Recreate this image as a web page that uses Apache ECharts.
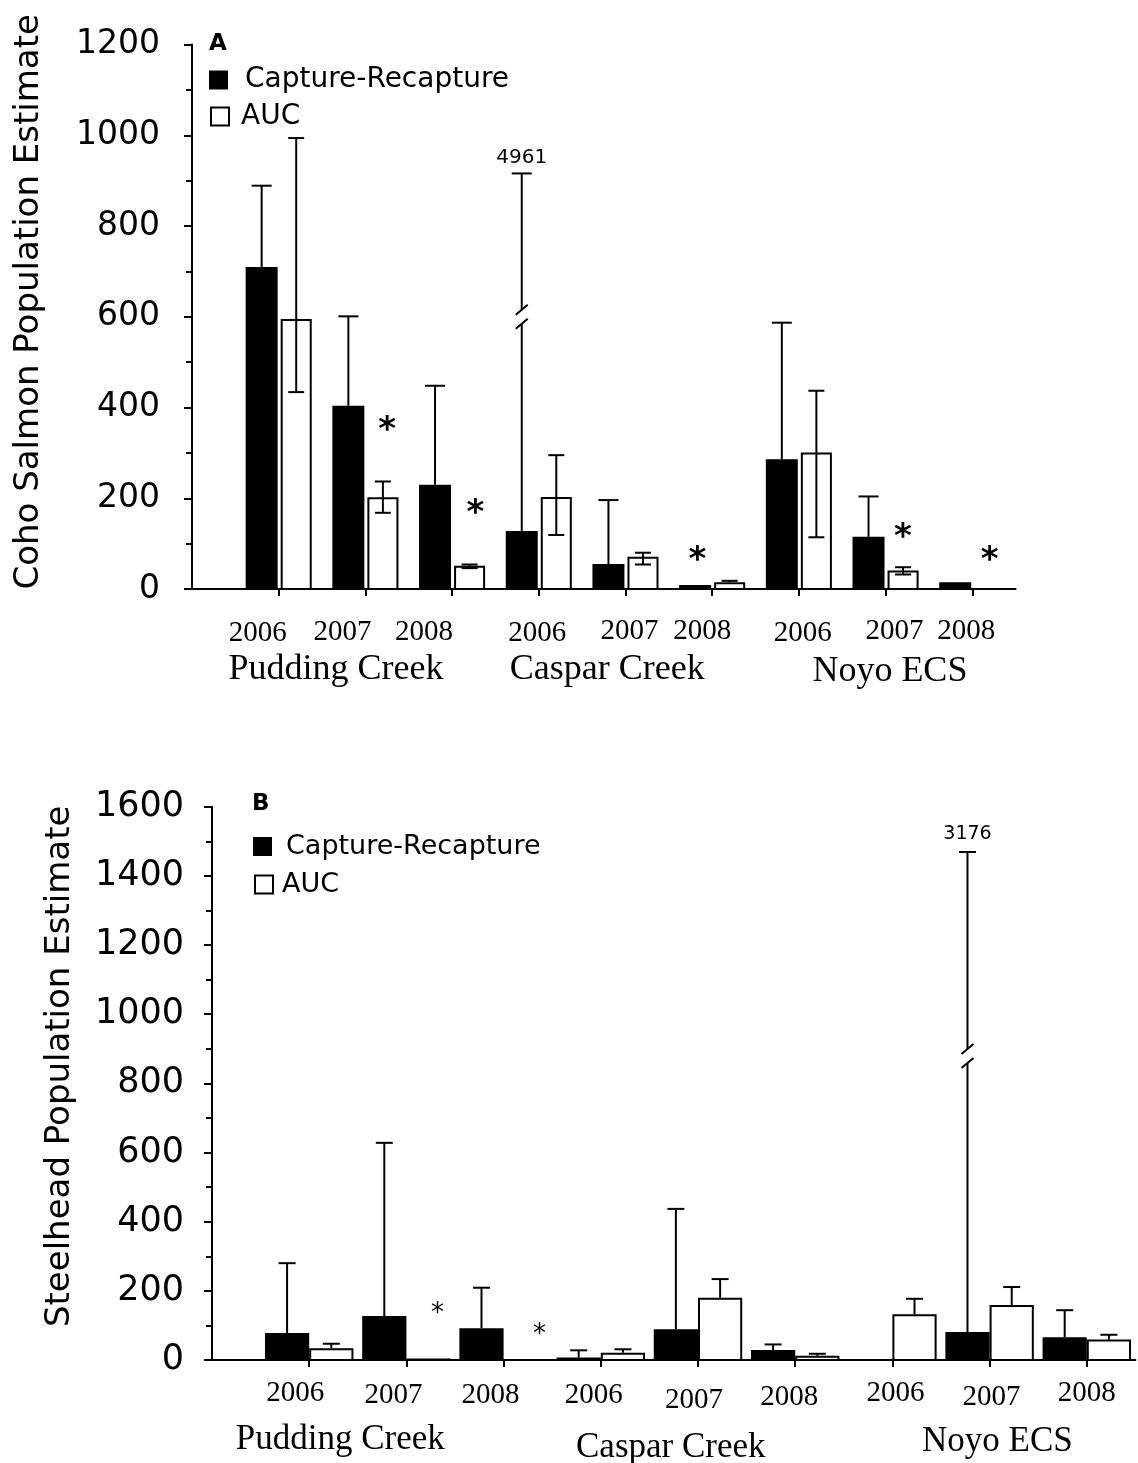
<!DOCTYPE html>
<html>
<head>
<meta charset="utf-8">
<title>Coho salmon and steelhead population estimates</title>
<script src="https://cdn.jsdelivr.net/npm/echarts@6/dist/echarts.min.js"></script>
<style>
  html, body { margin: 0; padding: 0; background: #fff; }
  #chart { width: 1138px; height: 1463px; }
</style>
</head>
<body>
<div id="chart"></div>
<script>
// ---- Categories ----
const sites = ['Pudding Creek', 'Caspar Creek', 'Noyo ECS'];
const years = ['2006', '2007', '2008'];

// ---- Panel A: coho salmon ----
const cohoTicks = [0, 200, 400, 600, 800, 1000, 1200];
const cohoCR = [710, 404, 230, 128, 55, 9, 286, 115, 15];
const cohoCRUpper = [889, 601, 448, 4961, 196, null, 587, 204, null];
const cohoAUC = [595, 202, 51, 203, 71, 15, 301, 41, 0];
const cohoAUCUpper = [994, 237, 54, 295, 80, 18, 437, 48, null];
const cohoAUCLower = [434, 168, 46, 119, 54, null, 114, 32, null];
const cohoStars = [[2.25, 366], [3.27, 184], [5.83, 79], [8.2, 130], [9.2, 79]];

// ---- Panel B: steelhead ----
const steelTicks = [0, 200, 400, 600, 800, 1000, 1200, 1400, 1600];
const steelCR = [78, 127, 92, 7, 89, 29, 0, 81, 66];
const steelCRUpper = [280, 628, 209, 28, 437, 45, null, 3176, 144];
const steelAUC = [34, 4, 0, 21, 180, 12, 132, 159, 59];
const steelAUCUpper = [47, null, null, 31, 234, 18, 177, 211, 73];
const steelStars = [[2.32, 150], [3.37, 89]];

// ---- Layout (pixels / axis units used only for placement) ----
const N = sites.length * years.length;
const catX = Array.from({ length: N }, (_, i) => i + 1);
const yearText = catX.map((_, i) => years[i % years.length]);

const panels = [
  {
    grid: { left: 192, top: 44.6, width: 823.6, height: 544.4 },
    ticks: cohoTicks,
    title: 'Coho Salmon Population Estimate', tag: 'A',
    tagPos: { left: 209, top: 33 },
    tickFont: 33, tickMargin: 32, nameGap: 146, namePad: 30,
    crSpan: [-0.381, -0.012], aucSpan: [0.023, 0.381],
    capCR: 20, capAUC: 16,
    brk: { at: 600, capAt: 916, labelDy: 16, labelFont: 20 },
    star: { size: 34, weight: 'bold' },
    yearDx: [-21, -23, -28, -1.5, 4, -10, 4, 9, -6],
    yearDy: [44, 43, 43, 44, 42, 42, 44, 42, 42],
    groupX: [1.66, 4.79, 8.05], groupDy: [81, 81, 83],
    yearFont: 29, groupFont: 36,
    legend: [
      { left: 209, top: 66, pad: 12, font: 28 },
      { left: 210, top: 102.5, pad: 7, font: 28 }
    ]
  },
  {
    grid: { left: 212, top: 806.7, width: 923.4, height: 553.3 },
    ticks: steelTicks,
    title: 'Steelhead Population Estimate', tag: 'B',
    tagPos: { left: 252, top: 793 },
    tickFont: 35, tickMargin: 28, nameGap: 135, namePad: 34,
    crSpan: [-0.455, 0], aucSpan: [0, 0.455],
    capCR: 17, capAUC: 17,
    brk: { at: 879, capAt: 1469, labelDy: 18, labelFont: 19 },
    star: { size: 26, weight: 'normal' },
    yearDx: [-14, -13, -13, -7, -4, -6, 3, 2, 0],
    yearDy: [33, 35, 35, 35, 40, 37, 33, 37, 33],
    groupX: [1.32, 4.72, 8.08], groupDy: [80, 88, 82],
    yearFont: 29, groupFont: 35,
    legend: [
      { left: 253, top: 833, pad: 9, font: 27 },
      { left: 254, top: 871, pad: 4, font: 27 }
    ]
  }
];

const INK = '#000';

// Filled / outlined bars, one rectangle per category
function barSeries(name, pi, values, span, filled) {
  return {
    type: 'custom', name, xAxisIndex: pi, yAxisIndex: pi, z: 3,
    itemStyle: filled ? { color: INK } : { color: '#fff', borderColor: INK, borderWidth: 2 },
    data: values.map((v, i) => [catX[i], v]),
    encode: { x: 0, y: 1 },
    renderItem(params, api) {
      const c = api.value(0), v = api.value(1);
      if (!v) return { type: 'group', children: [] };
      const [xl, y0] = api.coord([c + span[0], 0]);
      const [xr, y1] = api.coord([c + span[1], v]);
      if (filled) {
        return { type: 'rect', shape: { x: xl, y: y1, width: xr - xl, height: y0 - y1 },
                 style: { fill: INK } };
      }
      return { type: 'rect', shape: { x: xl + 1, y: y1 + 1, width: xr - xl - 2, height: y0 - y1 - 1 },
               style: { fill: '#fff', stroke: INK, lineWidth: 2 } };
    }
  };
}

// Error bar list for one bar series
function buildErrors(values, upper, lower, span, capW) {
  const centre = (span[0] + span[1]) / 2;
  const out = [];
  values.forEach((v, i) => {
    if (upper[i] == null) return;
    const hasLow = !!(lower && lower[i] != null);
    out.push({ x: catX[i] + centre, lo: hasLow ? lower[i] : v, hi: upper[i], lowCap: hasLow, capW });
  });
  return out;
}

function errorSeries(pi, list, yMax, brk) {
  return {
    type: 'custom', xAxisIndex: pi, yAxisIndex: pi, z: 4, silent: true,
    data: list.map(e => [e.x, Math.min(e.hi, yMax)]),
    encode: { x: 0, y: 1 },
    renderItem(params, api) {
      const e = list[params.dataIndex];
      const kids = [];
      const seg = (x1, y1, x2, y2) => kids.push({
        type: 'line', shape: { x1, y1, x2, y2 }, style: { stroke: INK, lineWidth: 2 }
      });
      const px = api.coord([e.x, 0])[0];
      const yLo = api.coord([e.x, e.lo])[1];
      const h = e.capW / 2;
      if (e.hi > yMax) {
        // whisker too long for the axis: draw it broken, with its value on top
        const yb = api.coord([e.x, brk.at])[1];
        const yc = api.coord([e.x, brk.capAt])[1];
        const g = 7;
        seg(px, yLo, px, yb + g);
        seg(px, yb - g, px, yc);
        seg(px - 6, yb + g + 5, px + 6, yb + g - 5);
        seg(px - 6, yb - g + 5, px + 6, yb - g - 5);
        seg(px - h, yc, px + h, yc);
        kids.push({
          type: 'text',
          style: { text: String(e.hi), x: px, y: yc - brk.labelDy, align: 'center', verticalAlign: 'middle',
                   fontSize: brk.labelFont, fontFamily: 'DejaVu Sans', fill: INK }
        });
      } else {
        const yHi = api.coord([e.x, e.hi])[1];
        seg(px, yLo, px, yHi);
        seg(px - h, yHi, px + h, yHi);
      }
      if (e.lowCap) seg(px - h, yLo, px + h, yLo);
      return { type: 'group', children: kids };
    }
  };
}

// Significance asterisks
function starSeries(pi, stars, st) {
  return {
    type: 'custom', xAxisIndex: pi, yAxisIndex: pi, z: 5, silent: true,
    data: stars, encode: { x: 0, y: 1 },
    renderItem(params, api) {
      const [x, y] = api.coord([api.value(0), api.value(1)]);
      return { type: 'text', style: { text: '*', x, y: y + 0.24 * st.size, align: 'center', verticalAlign: 'middle',
               fontSize: st.size, fontWeight: st.weight, fontFamily: 'DejaVu Sans', fill: INK } };
    }
  };
}

// Year and site captions under the category axis
function captionSeries(pi, P) {
  const items = catX.map((c, i) => ({ x: c, text: yearText[i], dx: P.yearDx[i], dy: P.yearDy[i], size: P.yearFont }))
    .concat(sites.map((s, k) => ({ x: P.groupX[k], text: s, dx: 0, dy: P.groupDy[k], size: P.groupFont })));
  return {
    type: 'custom', xAxisIndex: pi, yAxisIndex: pi, z: 5, silent: true,
    data: items.map(it => [it.x, 0]), encode: { x: 0, y: 1 },
    renderItem(params, api) {
      const it = items[params.dataIndex];
      const [x, y] = api.coord([it.x, 0]);
      return { type: 'text', style: { text: it.text, x: x + it.dx, y: y + it.dy, align: 'center', verticalAlign: 'middle',
               fontSize: it.size, fontFamily: 'Liberation Serif', fill: INK } };
    }
  };
}

const grids = [], xAxes = [], yAxes = [], series = [], legends = [], titles = [];
const data = [
  { cr: cohoCR, crUp: cohoCRUpper, auc: cohoAUC, aucUp: cohoAUCUpper, aucLo: cohoAUCLower, stars: cohoStars },
  { cr: steelCR, crUp: steelCRUpper, auc: steelAUC, aucUp: steelAUCUpper, aucLo: null, stars: steelStars }
];

panels.forEach((P, pi) => {
  const D = data[pi];
  const yMax = P.ticks[P.ticks.length - 1];
  grids.push(Object.assign({ containLabel: false, outerBoundsMode: 'none' }, P.grid));
  xAxes.push({
    gridIndex: pi, type: 'value', min: 0, max: N + 0.5,
    axisLine: { show: true, onZero: false, lineStyle: { color: INK, width: 2 } },
    axisTick: { show: true, customValues: catX, length: 7, lineStyle: { color: INK, width: 2 } },
    axisLabel: { show: false }, splitLine: { show: false }
  });
  yAxes.push({
    gridIndex: pi, type: 'value', min: P.ticks[0], max: yMax, interval: P.ticks[1] - P.ticks[0],
    axisLine: { show: true, lineStyle: { color: INK, width: 2 } },
    axisTick: { show: true, length: 8, lineStyle: { color: INK, width: 2 } },
    minorTick: { show: true, splitNumber: 2, length: 6, lineStyle: { color: INK, width: 2 } },
    splitLine: { show: false }, minorSplitLine: { show: false },
    axisLabel: { color: INK, fontSize: P.tickFont, fontFamily: 'DejaVu Sans', margin: P.tickMargin,
                 formatter: v => String(v) },
    name: P.title, nameLocation: 'middle', nameGap: P.nameGap,
    nameTextStyle: { color: INK, fontSize: 34, fontFamily: 'DejaVu Sans', padding: [0, 0, 0, P.namePad] }
  });
  titles.push({
    text: P.tag, left: P.tagPos.left, top: P.tagPos.top, padding: 0,
    textStyle: { fontSize: 23, fontWeight: 'bold', fontFamily: 'DejaVu Sans', color: INK }
  });
  const [lgCR, lgAUC] = P.legend;
  legends.push({
    left: lgCR.left, top: lgCR.top, padding: 0, itemWidth: 19, itemHeight: 19, selectedMode: false,
    textStyle: { fontSize: lgCR.font, fontFamily: 'DejaVu Sans', color: INK },
    data: [{ name: 'Capture-Recapture', icon: 'rect', itemStyle: { color: INK, borderWidth: 0 },
             textStyle: { padding: [0, 0, 0, lgCR.pad] } }]
  });
  legends.push({
    left: lgAUC.left, top: lgAUC.top, padding: 0, itemWidth: 18, itemHeight: 18, selectedMode: false,
    textStyle: { fontSize: lgAUC.font, fontFamily: 'DejaVu Sans', color: INK },
    data: [{ name: 'AUC', icon: 'rect', itemStyle: { color: '#fff', borderColor: INK, borderWidth: 2 },
             textStyle: { padding: [0, 0, 0, lgAUC.pad] } }]
  });

  series.push(barSeries('Capture-Recapture', pi, D.cr, P.crSpan, true));
  series.push(barSeries('AUC', pi, D.auc, P.aucSpan, false));
  const errs = buildErrors(D.cr, D.crUp, null, P.crSpan, P.capCR)
    .concat(buildErrors(D.auc, D.aucUp, D.aucLo, P.aucSpan, P.capAUC));
  series.push(errorSeries(pi, errs, yMax, P.brk));
  series.push(starSeries(pi, D.stars, P.star));
  series.push(captionSeries(pi, P));
});

const chart = echarts.init(document.getElementById('chart'), null, { renderer: 'canvas' });
chart.setOption({
  animation: false,
  backgroundColor: '#fff',
  title: titles,
  legend: legends,
  grid: grids,
  xAxis: xAxes,
  yAxis: yAxes,
  series
});
</script>
</body>
</html>
